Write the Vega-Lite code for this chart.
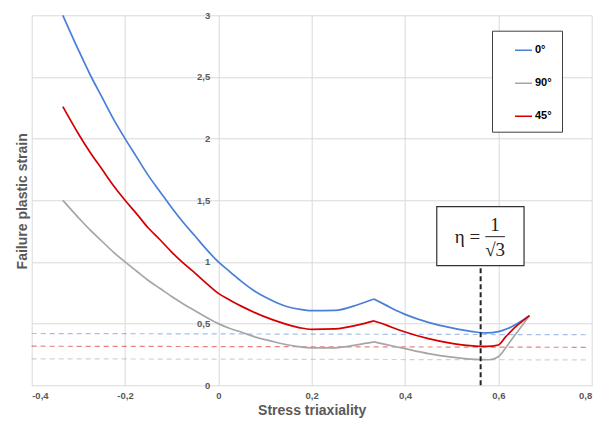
{
  "$schema": "https://vega.github.io/schema/vega-lite/v6.json",
  "width": 560,
  "height": 370,
  "autosize": "none",
  "padding": {"left": 31.7, "top": 15.3, "right": 22.3, "bottom": 39.7},
  "background": "white",
  "config": {
    "view": {"stroke": null},
    "font": "Liberation Sans",
    "axis": {
      "gridColor": "#d9d9d9",
      "gridWidth": 1,
      "domain": false,
      "ticks": false,
      "tickSize": 0,
      "labelFont": "Liberation Sans",
      "labelFontSize": 9.5,
      "labelFontWeight": "bold",
      "labelColor": "#595959",
      "titleFont": "Liberation Sans",
      "titleFontSize": 14,
      "titleFontWeight": "bold",
      "titleColor": "#595959"
    }
  },
  "datasets": {
    "curves": [
      {"triax": -0.3333, "strain": 3.0, "angle": "0°", "branch": "a"},
      {"triax": -0.3, "strain": 2.72, "angle": "0°", "branch": "a"},
      {"triax": -0.275, "strain": 2.52, "angle": "0°", "branch": "a"},
      {"triax": -0.25, "strain": 2.34, "angle": "0°", "branch": "a"},
      {"triax": -0.225, "strain": 2.16, "angle": "0°", "branch": "a"},
      {"triax": -0.2, "strain": 2.0, "angle": "0°", "branch": "a"},
      {"triax": -0.175, "strain": 1.85, "angle": "0°", "branch": "a"},
      {"triax": -0.15, "strain": 1.7, "angle": "0°", "branch": "a"},
      {"triax": -0.125, "strain": 1.57, "angle": "0°", "branch": "a"},
      {"triax": -0.1, "strain": 1.44, "angle": "0°", "branch": "a"},
      {"triax": -0.075, "strain": 1.32, "angle": "0°", "branch": "a"},
      {"triax": -0.05, "strain": 1.21, "angle": "0°", "branch": "a"},
      {"triax": -0.025, "strain": 1.1, "angle": "0°", "branch": "a"},
      {"triax": 0, "strain": 1.0, "angle": "0°", "branch": "a"},
      {"triax": 0.025, "strain": 0.92, "angle": "0°", "branch": "a"},
      {"triax": 0.05, "strain": 0.84, "angle": "0°", "branch": "a"},
      {"triax": 0.075, "strain": 0.77, "angle": "0°", "branch": "a"},
      {"triax": 0.1, "strain": 0.715, "angle": "0°", "branch": "a"},
      {"triax": 0.125, "strain": 0.67, "angle": "0°", "branch": "a"},
      {"triax": 0.15, "strain": 0.635, "angle": "0°", "branch": "a"},
      {"triax": 0.175, "strain": 0.615, "angle": "0°", "branch": "a"},
      {"triax": 0.2, "strain": 0.605, "angle": "0°", "branch": "a"},
      {"triax": 0.25, "strain": 0.607, "angle": "0°", "branch": "a"},
      {"triax": 0.3, "strain": 0.655, "angle": "0°", "branch": "a"},
      {"triax": 0.3333, "strain": 0.7, "angle": "0°", "branch": "a"},
      {"triax": 0.3333, "strain": 0.7, "angle": "0°", "branch": "b"},
      {"triax": 0.36, "strain": 0.648, "angle": "0°", "branch": "b"},
      {"triax": 0.38, "strain": 0.608, "angle": "0°", "branch": "b"},
      {"triax": 0.4, "strain": 0.575, "angle": "0°", "branch": "b"},
      {"triax": 0.45, "strain": 0.51, "angle": "0°", "branch": "b"},
      {"triax": 0.5, "strain": 0.465, "angle": "0°", "branch": "b"},
      {"triax": 0.525, "strain": 0.447, "angle": "0°", "branch": "b"},
      {"triax": 0.55, "strain": 0.432, "angle": "0°", "branch": "b"},
      {"triax": 0.575, "strain": 0.425, "angle": "0°", "branch": "b"},
      {"triax": 0.6, "strain": 0.435, "angle": "0°", "branch": "b"},
      {"triax": 0.62, "strain": 0.46, "angle": "0°", "branch": "b"},
      {"triax": 0.64, "strain": 0.5, "angle": "0°", "branch": "b"},
      {"triax": 0.6667, "strain": 0.565, "angle": "0°", "branch": "b"},

      {"triax": -0.3333, "strain": 1.5, "angle": "90°", "branch": "a"},
      {"triax": -0.3, "strain": 1.36, "angle": "90°", "branch": "a"},
      {"triax": -0.275, "strain": 1.26, "angle": "90°", "branch": "a"},
      {"triax": -0.25, "strain": 1.17, "angle": "90°", "branch": "a"},
      {"triax": -0.225, "strain": 1.08, "angle": "90°", "branch": "a"},
      {"triax": -0.2, "strain": 1.0, "angle": "90°", "branch": "a"},
      {"triax": -0.175, "strain": 0.925, "angle": "90°", "branch": "a"},
      {"triax": -0.15, "strain": 0.85, "angle": "90°", "branch": "a"},
      {"triax": -0.125, "strain": 0.785, "angle": "90°", "branch": "a"},
      {"triax": -0.1, "strain": 0.72, "angle": "90°", "branch": "a"},
      {"triax": -0.075, "strain": 0.66, "angle": "90°", "branch": "a"},
      {"triax": -0.05, "strain": 0.605, "angle": "90°", "branch": "a"},
      {"triax": -0.025, "strain": 0.55, "angle": "90°", "branch": "a"},
      {"triax": 0, "strain": 0.5, "angle": "90°", "branch": "a"},
      {"triax": 0.025, "strain": 0.46, "angle": "90°", "branch": "a"},
      {"triax": 0.05, "strain": 0.43, "angle": "90°", "branch": "a"},
      {"triax": 0.075, "strain": 0.397, "angle": "90°", "branch": "a"},
      {"triax": 0.1, "strain": 0.37, "angle": "90°", "branch": "a"},
      {"triax": 0.125, "strain": 0.347, "angle": "90°", "branch": "a"},
      {"triax": 0.15, "strain": 0.327, "angle": "90°", "branch": "a"},
      {"triax": 0.175, "strain": 0.312, "angle": "90°", "branch": "a"},
      {"triax": 0.2, "strain": 0.304, "angle": "90°", "branch": "a"},
      {"triax": 0.25, "strain": 0.304, "angle": "90°", "branch": "a"},
      {"triax": 0.3, "strain": 0.33, "angle": "90°", "branch": "a"},
      {"triax": 0.3333, "strain": 0.352, "angle": "90°", "branch": "a"},
      {"triax": 0.3333, "strain": 0.352, "angle": "90°", "branch": "b"},
      {"triax": 0.36, "strain": 0.33, "angle": "90°", "branch": "b"},
      {"triax": 0.4, "strain": 0.297, "angle": "90°", "branch": "b"},
      {"triax": 0.45, "strain": 0.257, "angle": "90°", "branch": "b"},
      {"triax": 0.5, "strain": 0.228, "angle": "90°", "branch": "b"},
      {"triax": 0.55, "strain": 0.21, "angle": "90°", "branch": "b"},
      {"triax": 0.58, "strain": 0.207, "angle": "90°", "branch": "b"},
      {"triax": 0.6, "strain": 0.232, "angle": "90°", "branch": "b"},
      {"triax": 0.615, "strain": 0.3, "angle": "90°", "branch": "b"},
      {"triax": 0.63, "strain": 0.38, "angle": "90°", "branch": "b"},
      {"triax": 0.645, "strain": 0.455, "angle": "90°", "branch": "b"},
      {"triax": 0.6667, "strain": 0.565, "angle": "90°", "branch": "b"},

      {"triax": -0.3333, "strain": 2.26, "angle": "45°", "branch": "a"},
      {"triax": -0.3, "strain": 2.04, "angle": "45°", "branch": "a"},
      {"triax": -0.275, "strain": 1.89, "angle": "45°", "branch": "a"},
      {"triax": -0.25, "strain": 1.755, "angle": "45°", "branch": "a"},
      {"triax": -0.225, "strain": 1.62, "angle": "45°", "branch": "a"},
      {"triax": -0.2, "strain": 1.5, "angle": "45°", "branch": "a"},
      {"triax": -0.175, "strain": 1.39, "angle": "45°", "branch": "a"},
      {"triax": -0.15, "strain": 1.275, "angle": "45°", "branch": "a"},
      {"triax": -0.125, "strain": 1.18, "angle": "45°", "branch": "a"},
      {"triax": -0.1, "strain": 1.08, "angle": "45°", "branch": "a"},
      {"triax": -0.075, "strain": 0.99, "angle": "45°", "branch": "a"},
      {"triax": -0.05, "strain": 0.91, "angle": "45°", "branch": "a"},
      {"triax": -0.025, "strain": 0.825, "angle": "45°", "branch": "a"},
      {"triax": 0, "strain": 0.745, "angle": "45°", "branch": "a"},
      {"triax": 0.025, "strain": 0.69, "angle": "45°", "branch": "a"},
      {"triax": 0.05, "strain": 0.64, "angle": "45°", "branch": "a"},
      {"triax": 0.075, "strain": 0.595, "angle": "45°", "branch": "a"},
      {"triax": 0.1, "strain": 0.555, "angle": "45°", "branch": "a"},
      {"triax": 0.125, "strain": 0.52, "angle": "45°", "branch": "a"},
      {"triax": 0.15, "strain": 0.49, "angle": "45°", "branch": "a"},
      {"triax": 0.175, "strain": 0.466, "angle": "45°", "branch": "a"},
      {"triax": 0.2, "strain": 0.453, "angle": "45°", "branch": "a"},
      {"triax": 0.25, "strain": 0.457, "angle": "45°", "branch": "a"},
      {"triax": 0.3, "strain": 0.49, "angle": "45°", "branch": "a"},
      {"triax": 0.3333, "strain": 0.522, "angle": "45°", "branch": "a"},
      {"triax": 0.3333, "strain": 0.522, "angle": "45°", "branch": "b"},
      {"triax": 0.36, "strain": 0.488, "angle": "45°", "branch": "b"},
      {"triax": 0.38, "strain": 0.458, "angle": "45°", "branch": "b"},
      {"triax": 0.4, "strain": 0.432, "angle": "45°", "branch": "b"},
      {"triax": 0.45, "strain": 0.378, "angle": "45°", "branch": "b"},
      {"triax": 0.5, "strain": 0.34, "angle": "45°", "branch": "b"},
      {"triax": 0.55, "strain": 0.318, "angle": "45°", "branch": "b"},
      {"triax": 0.575, "strain": 0.315, "angle": "45°", "branch": "b"},
      {"triax": 0.6, "strain": 0.327, "angle": "45°", "branch": "b"},
      {"triax": 0.615, "strain": 0.39, "angle": "45°", "branch": "b"},
      {"triax": 0.63, "strain": 0.45, "angle": "45°", "branch": "b"},
      {"triax": 0.645, "strain": 0.5, "angle": "45°", "branch": "b"},
      {"triax": 0.6667, "strain": 0.565, "angle": "45°", "branch": "b"}
    ],
    "refs": [
      {"triax": -0.4, "strain": 0.42, "angle": "0°"},
      {"triax": 0.79, "strain": 0.41, "angle": "0°"},
      {"triax": -0.4, "strain": 0.317, "angle": "45°"},
      {"triax": 0.79, "strain": 0.308, "angle": "45°"},
      {"triax": -0.4, "strain": 0.215, "angle": "90°"},
      {"triax": 0.79, "strain": 0.206, "angle": "90°"}
    ],
    "marker": [
      {"triax": 0.562, "low": 0, "high": 0.97}
    ],
    "box": [
      {"x1": 0.468, "x2": 0.655, "y1": 0.97, "y2": 1.448}
    ],
    "bar": [
      {"x1": 0.572, "x2": 0.614, "y": 1.205}
    ],
    "note": [
      {"x": 0.534, "y": 1.205, "label": "η ="},
      {"x": 0.593, "y": 1.3, "label": "1"},
      {"x": 0.593, "y": 1.1, "label": "√3"}
    ]
  },
  "layer": [
    {
      "data": {"name": "refs"},
      "mark": {"type": "line", "strokeDash": [5, 4], "strokeWidth": 1.2, "opacity": 0.5},
      "encoding": {
        "x": {"field": "triax", "type": "quantitative", "scale": {"domain": [-0.4, 0.8], "nice": false},
          "axis": {"values": [-0.4, -0.2, 0, 0.2, 0.4, 0.6, 0.8], "labelExpr": "replace(toString(datum.value), '.', ',')", "labelPadding": 5, "title": "Stress triaxiality", "titlePadding": 4}},
        "y": {"field": "strain", "type": "quantitative", "scale": {"domain": [0, 3], "nice": false},
          "axis": {"values": [0, 0.5, 1, 1.5, 2, 2.5, 3], "labelExpr": "replace(toString(datum.value), '.', ',')", "labelPadding": -178, "title": "Failure plastic strain", "titleX": -9.2, "titleY": 185.5, "titleBaseline": "middle", "titleAnchor": "middle"}},
        "color": {"field": "angle", "type": "nominal", "sort": null,
          "scale": {"domain": ["0°", "90°", "45°"], "range": ["#4a7fd8", "#a6a6a6", "#d40000"]},
          "legend": {
            "orient": "none", "legendX": 460.3, "legendY": 15.4, "title": null,
            "strokeColor": "#404040", "fillColor": "white", "padding": 10,
            "symbolType": "stroke", "symbolSize": 289, "symbolStrokeWidth": 1.5,
            "symbolDash": [1, 0], "symbolOpacity": 1,
            "symbolOffset": 12, "labelOffset": 2, "rowPadding": 18,
            "labelFont": "Liberation Sans", "labelFontSize": 11, "labelFontWeight": "bold", "labelColor": "black",
            "labelExpr": "datum.label + '     '"
          }}
      }
    },
    {
      "data": {"name": "curves"},
      "mark": {"type": "line", "strokeWidth": 1.7, "interpolate": "monotone"},
      "encoding": {
        "x": {"field": "triax", "type": "quantitative"},
        "y": {"field": "strain", "type": "quantitative"},
        "color": {"field": "angle", "type": "nominal", "sort": null},
        "detail": {"field": "branch"}
      }
    },
    {
      "data": {"name": "marker"},
      "mark": {"type": "rule", "color": "#222222", "strokeDash": [5, 3], "strokeWidth": 2},
      "encoding": {
        "x": {"field": "triax", "type": "quantitative"},
        "y": {"field": "low", "type": "quantitative"},
        "y2": {"field": "high"}
      }
    },
    {
      "data": {"name": "box"},
      "mark": {"type": "rect", "fill": "white", "stroke": "#333333", "strokeWidth": 1.2},
      "encoding": {
        "x": {"field": "x1", "type": "quantitative"},
        "x2": {"field": "x2"},
        "y": {"field": "y1", "type": "quantitative"},
        "y2": {"field": "y2"}
      }
    },
    {
      "data": {"name": "bar"},
      "mark": {"type": "rule", "color": "#222222", "strokeWidth": 1},
      "encoding": {
        "x": {"field": "x1", "type": "quantitative"},
        "x2": {"field": "x2"},
        "y": {"field": "y", "type": "quantitative"}
      }
    },
    {
      "data": {"name": "note"},
      "mark": {"type": "text", "font": "Liberation Serif", "fontSize": 19, "color": "#222222", "align": "center", "baseline": "middle"},
      "encoding": {
        "x": {"field": "x", "type": "quantitative"},
        "y": {"field": "y", "type": "quantitative"},
        "text": {"field": "label"}
      }
    }
  ]
}
